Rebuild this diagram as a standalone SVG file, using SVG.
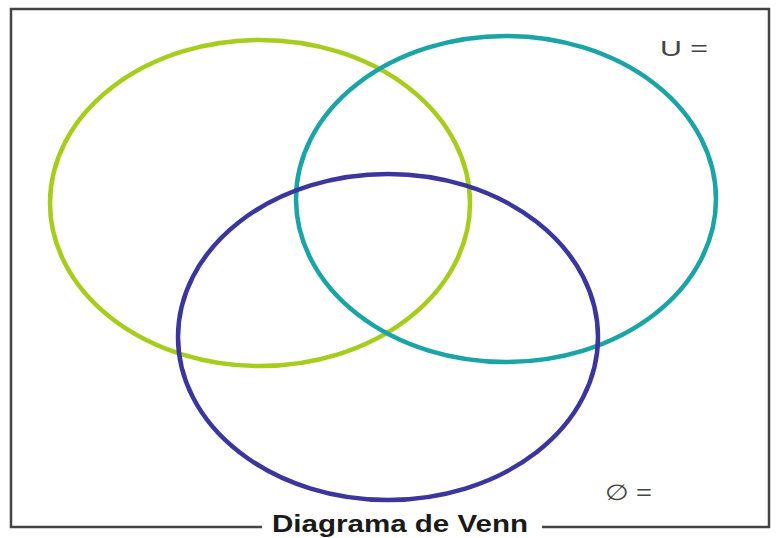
<svg xmlns="http://www.w3.org/2000/svg" width="778" height="538" viewBox="0 0 778 538">
<style>
.set{fill:none;stroke-width:4.5}
.lbl{font-family:"Liberation Sans",Arial,sans-serif;fill:#444}
.frame{stroke:#444;stroke-width:2.5;fill:none}
</style>
<rect width="778" height="538" fill="#fff"/>
<g id="frame">
<path class="frame" d="M262,527 H11 V9 H769 V527 H542"/>
<text class="lbl" x="272" y="532" font-size="23" font-weight="bold" textLength="256" lengthAdjust="spacingAndGlyphs" style="fill:#1a1a1a">Diagrama de Venn</text>
</g>
<g id="setA"><ellipse class="set" cx="260" cy="203" rx="210" ry="163" stroke="#a6cc1c"/></g>
<g id="setB"><ellipse class="set" cx="506" cy="199" rx="210" ry="163" stroke="#1aa4a6"/></g>
<g id="setC"><ellipse class="set" cx="388" cy="337" rx="210" ry="163" stroke="#3a369e"/></g>
<g id="universe"><text class="lbl" x="660" y="56" font-size="22" textLength="48" lengthAdjust="spacingAndGlyphs">U =</text></g>
<g id="empty"><text class="lbl" x="605" y="500" font-size="22" textLength="47" lengthAdjust="spacingAndGlyphs">∅ =</text></g>
</svg>
